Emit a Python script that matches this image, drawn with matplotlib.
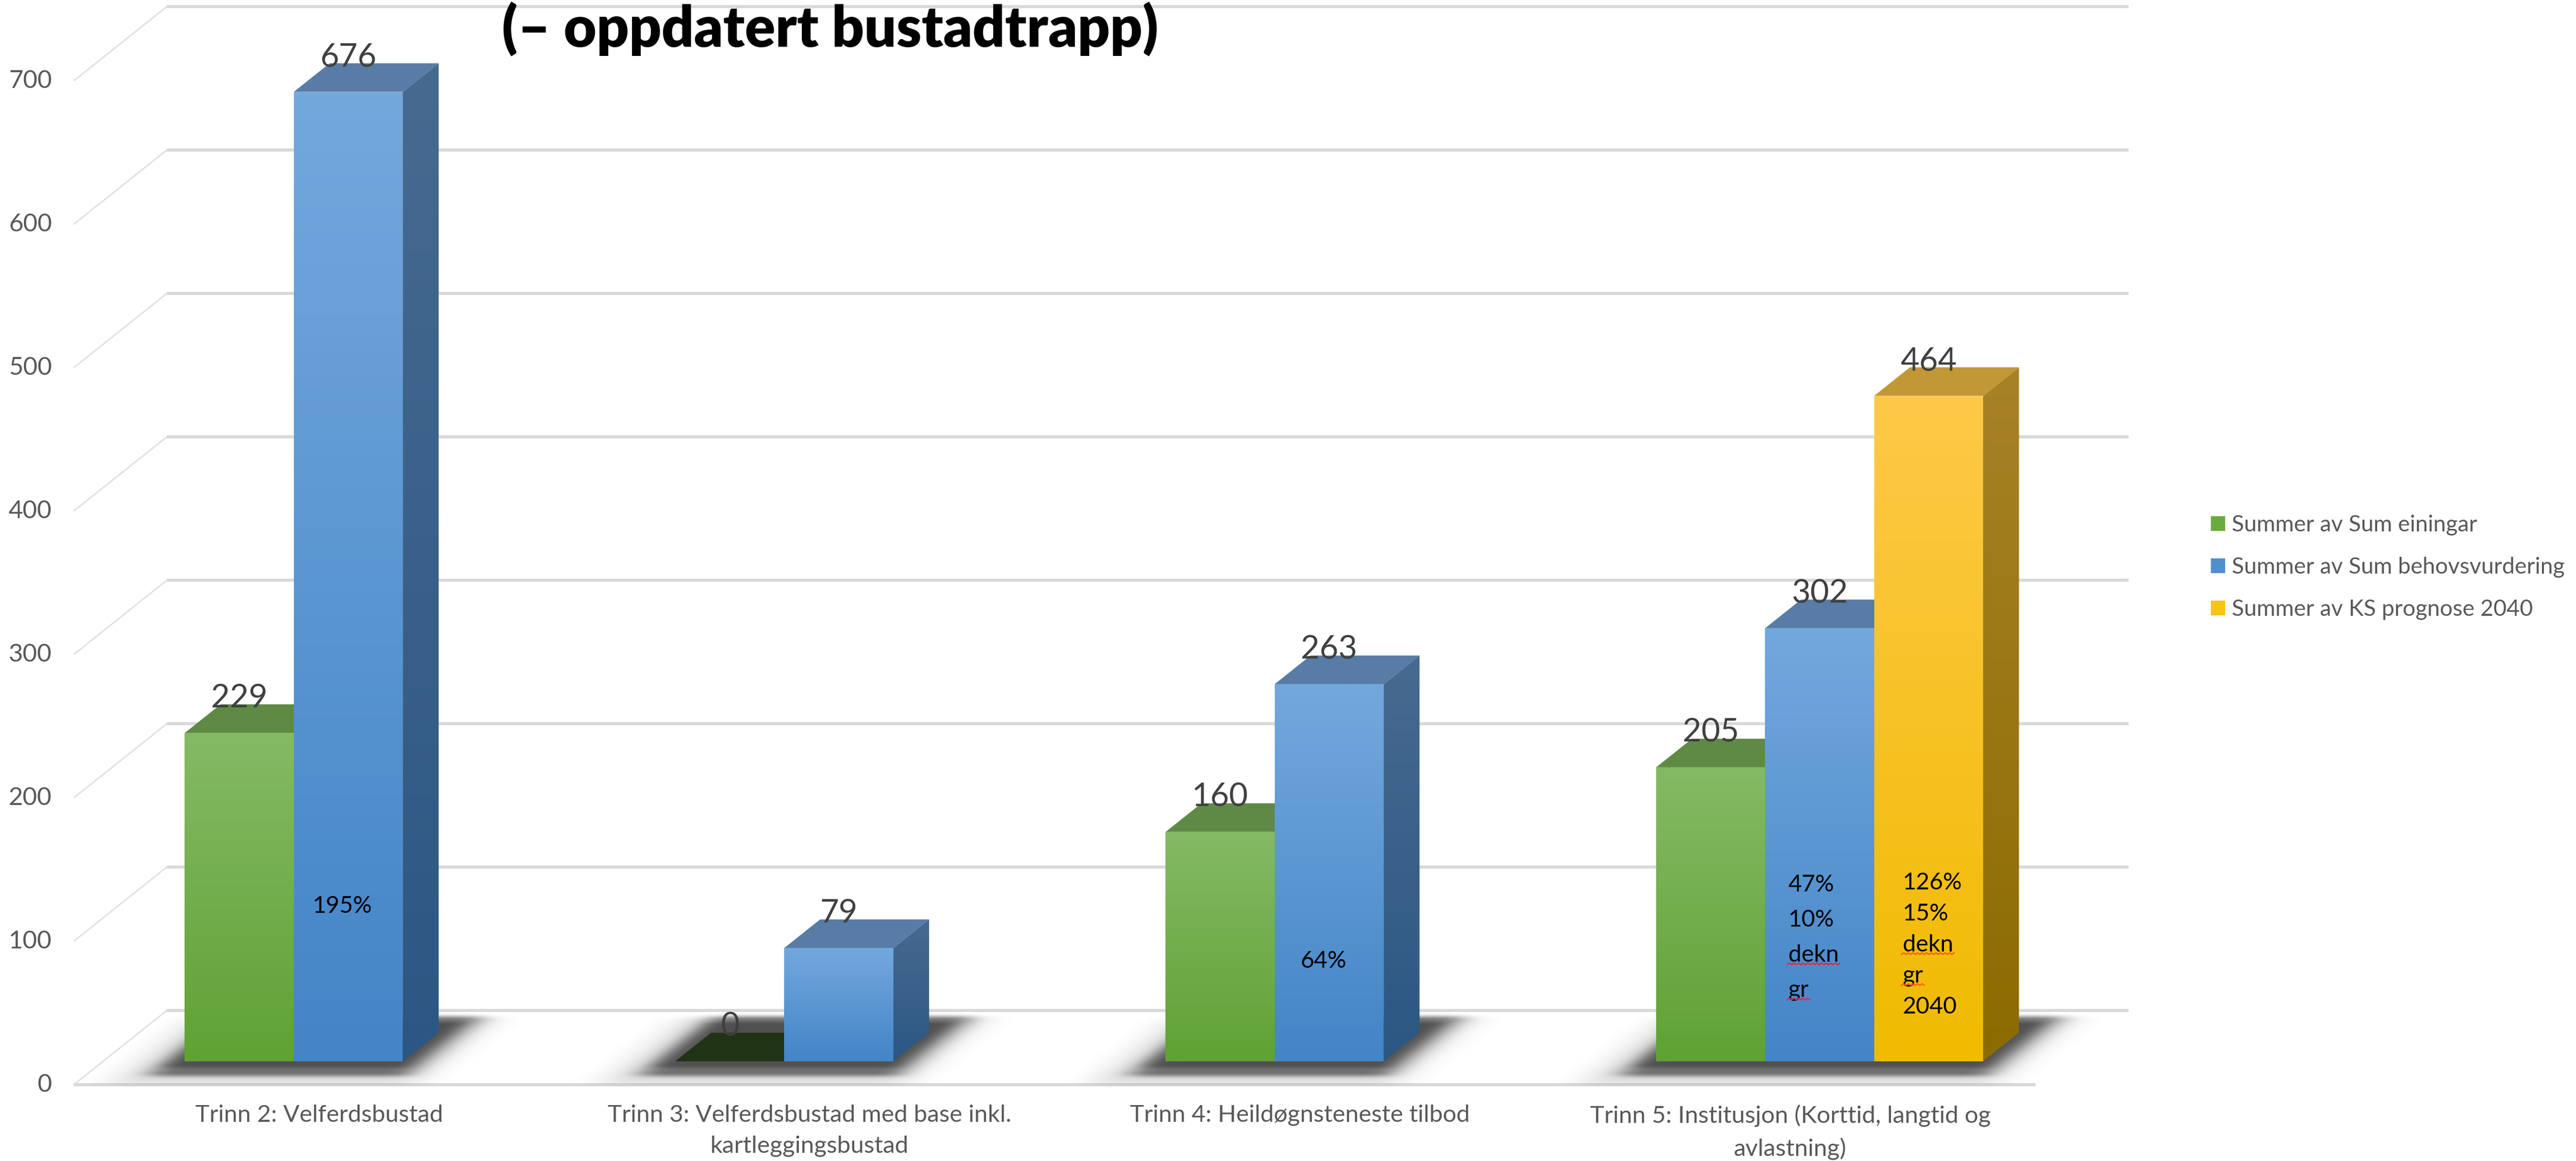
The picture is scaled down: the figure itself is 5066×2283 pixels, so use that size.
import numpy as np
import matplotlib
matplotlib.use("Agg")
import matplotlib.pyplot as plt
from matplotlib.patches import Polygon, Patch
from matplotlib.path import Path
from matplotlib.lines import Line2D
from matplotlib.colors import LinearSegmentedColormap
from matplotlib.transforms import IdentityTransform

plt.rcParams["font.family"] = ["Lato", "DejaVu Sans"]

# ---- data ----
categories = [
    "Trinn 2: Velferdsbustad",
    "Trinn 3: Velferdsbustad med base inkl.\nkartleggingsbustad",
    "Trinn 4: Heildøgnsteneste tilbod",
    "Trinn 5: Institusjon (Korttid, langtid og\navlastning)",
]
series_names = [
    "Summer av Sum einingar",
    "Summer av Sum behovsvurdering",
    "Summer av KS prognose 2040",
]
einingar = [229, 0, 160, 205]
behovsvurdering = [676, 79, 263, 302]
ks_prognose_2040 = [None, None, None, 464]
y_ticks = [0, 100, 200, 300, 400, 500, 600, 700]

# coverage notes written on the bars
behov_notes = [["195%"], [], ["64%"], ["47%", "10%", "dekn", "gr"]]
ks_notes = [[], [], [], ["126%", "15%", "dekn", "gr", "2040"]]
flagged_words = ("dekn", "gr")

title = "(\u2013 oppdatert bustadtrapp)"

series = [einingar, behovsvurdering, ks_prognose_2040]

# face colours per series
styles = [
    dict(front=("#84ba65", "#60a234"), top="#5f8a46", side=("#4f7a36", "#3f6a26"), zero="#203315"),
    dict(front=("#73a8dd", "#4385c7"), top="#587ca6", side=("#476a90", "#2c5784"), zero="#1d3550"),
    dict(front=("#fec947", "#f0bb00"), top="#c29735", side=("#a88226", "#8c6b00"), zero="#4a3a00"),
]
legend_colors = ["#6aab40", "#4f8fd0", "#fbc413"]

# ---- geometry of the oblique 3-D frame ----
DPI = 200
W, H = 5066, 2283
PX_X = 964.5          # pixels per category
PX_Y = 2.82           # pixels per unit
X0_PX, Y0_PX = 145, 2133
DX, DY = 0.19, 51.8   # full floor depth offset (category units, value units)
FRONT, BACK = 0.315, 0.70
BAR_W = 1 / 4.5
GAP = (1 - 3 * BAR_W) / 2
K = (DX * PX_X) / (DY * PX_Y)  # depth slope in pixels

fx, fy = FRONT * DX, FRONT * DY
bx, by = (BACK - FRONT) * DX, (BACK - FRONT) * DY
n = len(categories)

fig = plt.figure(figsize=(W / DPI, H / DPI), dpi=DPI)
ax = fig.add_axes([0, 0, 1, 1])
ax.axis("off")
ax.set_xlim(-X0_PX / PX_X, (W - X0_PX) / PX_X)
ax.set_ylim(-(H - Y0_PX) / PX_Y, Y0_PX / PX_Y)
ax.set_autoscale_on(False)

# walls and floor gridlines
for v in y_ticks:
    ax.plot([0, DX], [v, v + DY], color="#e2e2e2", lw=1.1, zorder=1, solid_capstyle="butt")
    ax.plot([DX, n + DX], [v + DY, v + DY], color="#d9d9d9", lw=2.2, zorder=1, solid_capstyle="butt")
    ax.text(-43 / PX_X, v, f"{v}", ha="right", va="center", fontsize=17.6, color="#595959")
ax.plot([0, n], [0, 0], color="#d9d9d9", lw=2.2, zorder=1, solid_capstyle="butt")


def box_blur(a, r, axis):
    r = int(r)
    if r < 1:
        return a
    for _ in range(3):
        pad = [(0, 0)] * a.ndim
        pad[axis] = (r + 1, r)
        c = np.cumsum(np.pad(a, pad), axis=axis)
        m = a.shape[axis]
        hi = np.take(c, np.arange(2 * r + 1, 2 * r + 1 + m), axis=axis)
        lo = np.take(c, np.arange(0, m), axis=axis)
        a = (hi - lo) / (2 * r + 1)
    return a


def gradient_face(xy, c_top, c_bot, z):
    patch = Polygon(xy, closed=True, facecolor="none", edgecolor="none")
    ax.add_patch(patch)
    xs = [p[0] for p in xy]
    ys = [p[1] for p in xy]
    cmap = LinearSegmentedColormap.from_list("face", [c_bot, c_top])
    grad = np.linspace(0, 1, 256).reshape(-1, 1)
    im = ax.imshow(grad, cmap=cmap, extent=(min(xs), max(xs), min(ys), max(ys)),
                   origin="lower", aspect="auto", zorder=z, interpolation="bilinear")
    im.set_clip_path(patch)


# cluster extents for the floor shadows
clusters = []
for i in range(n):
    lefts = [i + GAP + s * BAR_W + fx for s in range(3) if series[s][i] is not None]
    clusters.append((min(lefts), max(lefts) + BAR_W))

# soft shadow under each cluster, rendered as a blurred alpha raster
x_lo, x_hi = -0.15, n + 0.45
y_lo, y_hi = -20.0, 80.0
nx, ny = int((x_hi - x_lo) * PX_X), int((y_hi - y_lo) * PX_Y)
gx, gy = np.meshgrid(np.linspace(x_lo, x_hi, nx), np.linspace(y_lo, y_hi, ny))
pts = np.column_stack([gx.ravel(), gy.ravel()])
layers = [  # drop, rise, left, right (px), blur x, blur y (px), alpha
    (46, 30, 90, 80, 32, 4, 0.13),
    (30, 32, 35, 45, 22, 3, 0.50),
    (13, 20, 30, 25, 14, 2, 0.28),
]
keep = np.ones((ny, nx))
for drop, rise, left, right, sx, sy, alpha in layers:
    mask = np.zeros(nx * ny, bool)
    for xl, xr in clusters:
        poly = [
            (xl - (left + drop * K) / PX_X, fy - drop / PX_Y),
            (xr + (right - drop * K) / PX_X, fy - drop / PX_Y),
            (xr + bx + (right + rise * K) / PX_X, fy + by + rise / PX_Y),
            (xl + bx - (left - rise * K) / PX_X, fy + by + rise / PX_Y),
        ]
        mask |= Path(poly).contains_points(pts)
    m = mask.reshape(ny, nx).astype(float)
    m = box_blur(box_blur(m, sx, 1), sy, 0)
    keep *= 1 - alpha * m
shadow = np.zeros((ny, nx, 4))
shadow[..., 3] = 1 - keep
ax.imshow(shadow, extent=(x_lo, x_hi, y_lo, y_hi), origin="lower", aspect="auto",
          zorder=2, interpolation="bilinear")

# bars
bar_geom = {}
for i in range(n):
    for s in range(3):
        v = series[s][i]
        if v is None:
            continue
        st = styles[s]
        x0 = i + GAP + s * BAR_W + fx
        x1 = x0 + BAR_W
        y0, y1 = fy, fy + v
        z = 3 + 0.1 * s
        bar_geom[(s, i)] = (x0, x1, y0, y1)
        top = [(x0, y1), (x1, y1), (x1 + bx, y1 + by), (x0 + bx, y1 + by)]
        if v > 0:
            side = [(x1, y0), (x1 + bx, y0 + by), (x1 + bx, y1 + by), (x1, y1)]
            gradient_face(side, st["side"][0], st["side"][1], z)
            ax.add_patch(Polygon(top, closed=True, facecolor=st["top"], edgecolor="none", zorder=z + 0.01))
            gradient_face([(x0, y0), (x1, y0), (x1, y1), (x0, y1)], st["front"][0], st["front"][1], z + 0.02)
        else:
            ax.add_patch(Polygon(top, closed=True, facecolor=st["zero"], edgecolor="none", zorder=z + 0.01))
        ax.text((x0 + x1) / 2, y1 + by - 2.2, f"{v:g}", ha="center", va="baseline",
                fontsize=23, color="#404040", zorder=6)

# notes on the bars
note_texts = []


def put_note(s, i, lines, y_first, step, ha, x_pad):
    x0, x1, _, _ = bar_geom[(s, i)]
    x = (x0 + x1) / 2 + x_pad if ha == "center" else x0 + x_pad
    for k, line in enumerate(lines):
        t = ax.text(x, y_first - k * step, line, ha=ha, va="baseline",
                    fontsize=16.6, color="black", zorder=7)
        note_texts.append((t, s))


put_note(1, 0, behov_notes[0], 120.0, 0, "center", -0.013)
put_note(1, 2, behov_notes[2], 81.5, 0, "center", -0.012)
put_note(1, 3, behov_notes[3], 134.8, 24.5, "left", 0.047)
put_note(2, 3, ks_notes[3], 136.2, 21.6, "left", 0.058)

# category labels
for i, lab in enumerate(categories):
    ax.text(i + 0.5, -13.8, lab, ha="center", va="top", fontsize=17,
            color="#595959", linespacing=1.57)

# legend
handles = [Patch(facecolor=c, edgecolor="none") for c in legend_colors]
ax.legend(handles, series_names, loc="upper left",
          bbox_to_anchor=(4348 / W, 1 - 1012 / H), bbox_transform=fig.transFigure,
          frameon=False, fontsize=16, handlelength=0.63, handleheight=0.63,
          handletextpad=0.3, labelspacing=0.95, borderpad=0, borderaxespad=0,
          labelcolor="#595959")

fig.text(987 / W, 1 - 92 / H, title, ha="left", va="baseline", fontsize=40,
         fontweight="heavy", color="black")

# spell-check squiggles under flagged words
fig.canvas.draw()
renderer = fig.canvas.get_renderer()
for t, s in note_texts:
    if t.get_text() in flagged_words:
        bb = t.get_window_extent(renderer)
        xs = np.arange(bb.x0 - 2, bb.x1 + 6, 4.5)
        ys = bb.y0 + 2 + 3.2 * (np.arange(len(xs)) % 2)
        col = "#e3263e" if s == 1 else "#ff5a14"
        ax.add_line(Line2D(xs, ys, transform=IdentityTransform(), color=col, lw=0.9, zorder=8))

fig.savefig("out.png", dpi=DPI)
